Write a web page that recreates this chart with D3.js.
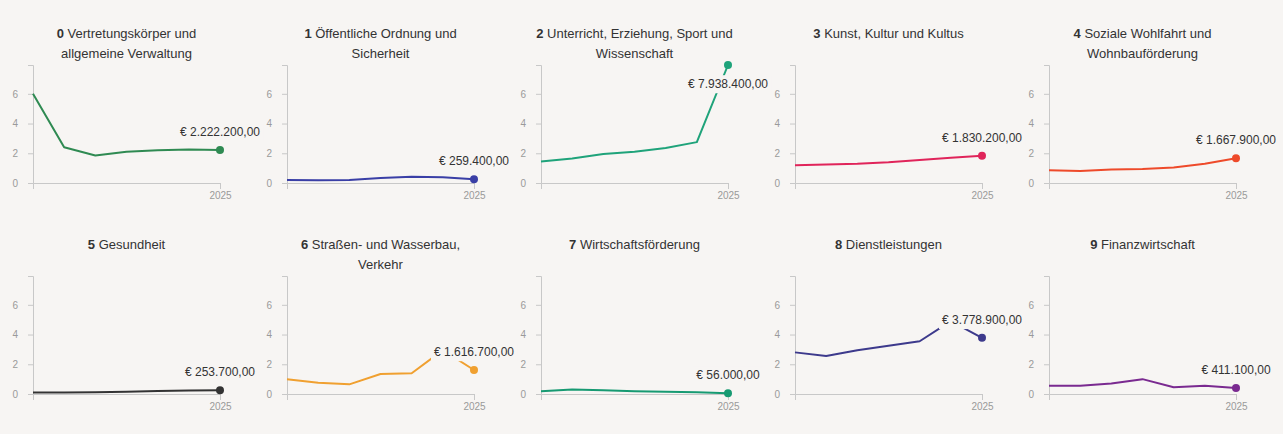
<!DOCTYPE html>
<html>
<head>
<meta charset="utf-8">
<script src="https://cdn.jsdelivr.net/npm/d3@7"></script>
<style>
  body { margin: 0; background: #f7f5f3; font-family: "Liberation Sans", Arial, sans-serif; }
  .axis path, .axis line { stroke: #c8c8c8; }
  .axis text { fill: #9a9a9a; font-size: 10px; font-family: "Liberation Sans", Arial, sans-serif; }
</style>
</head>
<body>
<div id="chart"></div>
<script>
var years = [2019, 2020, 2021, 2022, 2023, 2024, 2025];

var groupNumbers = ['0', '1', '2', '3', '4', '5', '6', '7', '8', '9'];
var groupNames = [
  'Vertretungskörper und allgemeine Verwaltung',
  'Öffentliche Ordnung und Sicherheit',
  'Unterricht, Erziehung, Sport und Wissenschaft',
  'Kunst, Kultur und Kultus',
  'Soziale Wohlfahrt und Wohnbauförderung',
  'Gesundheit',
  'Straßen- und Wasserbau, Verkehr',
  'Wirtschaftsförderung',
  'Dienstleistungen',
  'Finanzwirtschaft'
];

// values in million euro, one array per group
var v0 = [6.0, 2.4, 1.85, 2.1, 2.2, 2.25, 2.2222];
var v1 = [0.2, 0.18, 0.2, 0.33, 0.42, 0.38, 0.2594];
var v2 = [1.45, 1.65, 1.95, 2.1, 2.35, 2.75, 7.9384];
var v3 = [1.2, 1.25, 1.3, 1.4, 1.55, 1.7, 1.8302];
var v4 = [0.85, 0.8, 0.9, 0.95, 1.05, 1.3, 1.6679];
var v5 = [0.1, 0.1, 0.12, 0.15, 0.2, 0.24, 0.2537];
var v6 = [1.0, 0.75, 0.65, 1.35, 1.4, 2.95, 1.6167];
var v7 = [0.18, 0.3, 0.25, 0.18, 0.15, 0.12, 0.056];
var v8 = [2.8, 2.55, 2.95, 3.25, 3.55, 4.9, 3.7789];
var v9 = [0.55, 0.56, 0.7, 1.0, 0.45, 0.55, 0.4111];
var seriesValues = [v0, v1, v2, v3, v4, v5, v6, v7, v8, v9];

var colors = ['#2f8a52', '#3a3fa6', '#1fa37a', '#e0245a', '#ee4a2a',
              '#333333', '#f0a030', '#179a72', '#3d3a8c', '#7a2a90'];

var yTicks = [0, 2, 4, 6];
var xTicks = [2025];

var width = 1283, height = 434;
var colWidth = 254, rowHeight = 211;
var plotLeft = 33, plotWidth = 187, plotTop = 65, plotHeight = 118;

var de = d3.formatLocale({
  decimal: ',', thousands: '.', grouping: [3], currency: ['€ ', '']
});
var money = de.format('$,.2f');

var yMax = d3.max(seriesValues, function(s) { return d3.max(s); });

var xScale = d3.scaleLinear()
    .domain(d3.extent(years))
    .range([0, plotWidth]);

var yScale = d3.scaleLinear()
    .domain([0, yMax])
    .range([plotHeight, 0]);

var line = d3.line()
    .x(function(d, i) { return xScale(years[i]); })
    .y(function(d) { return yScale(d); });

var svg = d3.select('#chart').append('svg')
    .attr('width', width)
    .attr('height', height);

function wrapTitle(textSel, num, name, maxWidth) {
  var words = name.split(' ');
  var lines = [[]];
  var probe = textSel.append('tspan');
  words.forEach(function(w) {
    var cur = lines[lines.length - 1];
    var test = (lines.length === 1 ? num + ' ' : '') + cur.concat([w]).join(' ');
    probe.text(test);
    if (probe.node().getComputedTextLength() > maxWidth && cur.length) {
      lines.push([w]);
    } else {
      cur.push(w);
    }
  });
  probe.remove();
  lines.forEach(function(l, i) {
    var t = textSel.append('tspan')
        .attr('x', 0)
        .attr('dy', i === 0 ? 0 : 20);
    if (i === 0) {
      t.append('tspan').attr('font-weight', 'bold').text(num + ' ');
    }
    t.append('tspan').text(l.join(' '));
  });
}

var panels = svg.selectAll('g.panel')
    .data(seriesValues)
    .enter().append('g')
    .attr('class', 'panel')
    .attr('transform', function(d, i) {
      return 'translate(' + ((i % 5) * colWidth) + ',' + (Math.floor(i / 5) * rowHeight) + ')';
    });

panels.each(function(vals, i) {
  var p = d3.select(this);

  var title = p.append('text')
      .attr('transform', 'translate(' + (plotLeft + plotWidth / 2) + ',38)')
      .attr('text-anchor', 'middle')
      .style('font-size', '13px')
      .style('fill', '#333');
  wrapTitle(title, groupNumbers[i], groupNames[i], 202);

  var g = p.append('g')
      .attr('transform', 'translate(' + plotLeft + ',' + plotTop + ')');

  g.append('g')
      .attr('class', 'axis')
      .call(d3.axisLeft(yScale).tickValues(yTicks).tickSize(5).tickPadding(10)
        .tickFormat(d3.format('d')));

  g.append('g')
      .attr('class', 'axis')
      .attr('transform', 'translate(0,' + plotHeight + ')')
      .call(d3.axisBottom(xScale).tickValues(xTicks).tickFormat(d3.format('d')));

  g.append('path')
      .datum(vals)
      .attr('fill', 'none')
      .attr('stroke', colors[i])
      .attr('stroke-width', 2)
      .attr('stroke-linejoin', 'round')
      .attr('d', line);

  var last = vals[vals.length - 1];
  var lx = xScale(years[years.length - 1]);
  var ly = yScale(last);

  g.append('circle')
      .attr('cx', lx)
      .attr('cy', ly)
      .attr('r', 4)
      .style('fill', colors[i]);

  var labelY = ly - 18 < 5 ? ly + 19 : ly - 18;
  var lab = g.append('g').attr('transform', 'translate(' + lx + ',' + labelY + ')');
  var bg = lab.append('rect').style('fill', '#f7f5f3');
  var txt = lab.append('text')
      .attr('text-anchor', 'middle')
      .attr('dy', '0.35em')
      .style('font-size', '12px')
      .style('fill', '#333')
      .text(money(last * 1e6));
  var bb = txt.node().getBBox();
  bg.attr('x', bb.x - 3).attr('y', bb.y - 2)
    .attr('width', bb.width + 6).attr('height', bb.height + 4);
});
</script>
</body>
</html>
